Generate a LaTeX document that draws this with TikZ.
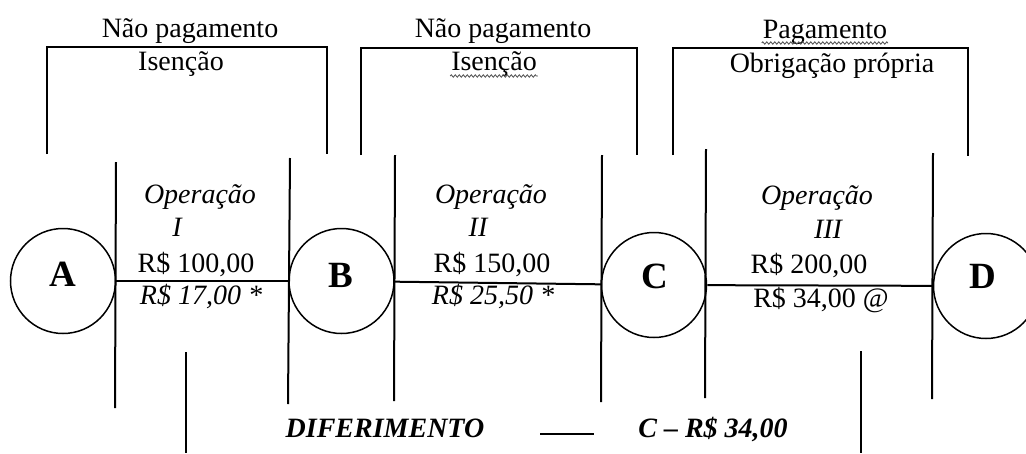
\documentclass[tikz,border=0pt]{standalone}
\usepackage{fontspec}
\setmainfont{Liberation Serif}
\usetikzlibrary{decorations.pathmorphing}

\tikzset{
  party/.style={circle,draw,line width=1.5pt,minimum size=105pt,inner sep=0pt},
  partyname/.style={anchor=base,inner sep=0pt,font=\fontsize{37}{37}\selectfont\bfseries},
  txt/.style={anchor=base,font=\fontsize{28}{30}\selectfont,inner sep=0pt},
  optxt/.style={txt,font=\fontsize{28}{30}\selectfont\itshape},
  deftxt/.style={txt,font=\fontsize{28}{30}\selectfont\bfseries\itshape},
  squiggle/.style={line width=0.8pt,black!70,decorate,decoration={zigzag,amplitude=1.2pt,segment length=4pt}}
}

\begin{document}
\begin{tikzpicture}[x=1pt,y=-1pt,line width=2pt]
  \useasboundingbox (0,0) rectangle (1026,453);

  \node[party] (A) at (63,281) {};
  \node[party] (B) at (341.5,281) {};
  \node[party] (C) at (654,285) {};
  \node[party] (D) at (986,286) {};
  \node[partyname] (nameA) at (63,286) {A};
  \node[partyname] (nameB) at (341,287) {B};
  \node[partyname] (nameC) at (655,288) {C};
  \node[partyname] (nameD) at (983,288) {D};

  % top brackets
  \coordinate (b1a) at (47,154);  \coordinate (b1b) at (47,47);  \coordinate (b1c) at (327,47);  \coordinate (b1d) at (327,154);
  \coordinate (b2a) at (361,155); \coordinate (b2b) at (361,48); \coordinate (b2c) at (637,48);  \coordinate (b2d) at (637,155);
  \coordinate (b3a) at (673,155); \coordinate (b3b) at (673,48); \coordinate (b3c) at (968,48);  \coordinate (b3d) at (968,156);
  \draw (b1a) -- (b1b) -- (b1c) -- (b1d);
  \draw (b2a) -- (b2b) -- (b2c) -- (b2d);
  \draw (b3a) -- (b3b) -- (b3c) -- (b3d);

  % walls of the operations
  \coordinate (w1t) at (116,162); \coordinate (w1b) at (115,408);
  \coordinate (w2t) at (290,158); \coordinate (w2b) at (288,404);
  \coordinate (w3t) at (395,155); \coordinate (w3b) at (394,401);
  \coordinate (w4t) at (602,155); \coordinate (w4b) at (601,402);
  \coordinate (w5t) at (706,149); \coordinate (w5b) at (705,398);
  \coordinate (w6t) at (933,153); \coordinate (w6b) at (932,399);
  \path (w1t) edge (w1b)
        (w2t) edge (w2b)
        (w3t) edge (w3b)
        (w4t) edge (w4b)
        (w5t) edge (w5b)
        (w6t) edge (w6b);

  \path (A) edge (B)
        (B) edge (C)
        (C) edge (D);

  \node[txt] (top1) at (190,37) {Não pagamento};
  \node[txt] (sub1) at (181,70) {Isenção};
  \node[txt] (top2) at (503,37) {Não pagamento};
  \node[txt] (sub2) at (494,70) {Isenção};
  \node[txt] (top3) at (825,38) {Pagamento};
  \node[txt] (sub3) at (832,72) {Obrigação própria};
  \draw[squiggle] ([yshift=-6pt]sub2.base west) -- ([yshift=-6pt]sub2.base east);
  \draw[squiggle] ([yshift=-5pt]top3.base west) -- ([yshift=-5pt]top3.base east);

  \node[optxt] (op1) at (200,203) {Operação};
  \node[optxt] (rom1) at (177,236) {I};
  \node[txt] (val1) at (196,272) {R\$ 100,00};
  \node[optxt] (tax1) at (201,304) {R\$ 17,00 *};

  \node[optxt] (op2) at (491,203) {Operação};
  \node[optxt] (rom2) at (478,236) {II};
  \node[txt] (val2) at (492,272) {R\$ 150,00};
  \node[optxt] (tax2) at (493,304) {R\$ 25,50 *};

  \node[optxt] (op3) at (817,204) {Operação};
  \node[optxt] (rom3) at (828,238) {III};
  \node[txt] (val3) at (809,273) {R\$ 200,00};
  \node[txt] (tax3) at (821,307) {R\$ 34,00 @};

  % deferral line
  \node[deftxt] (dif) at (385,437) {DIFERIMENTO};
  \node[deftxt] (cval) at (713,437) {C -- R\$ 34,00};
  \coordinate (d1) at (186,352); \coordinate (d2) at (186,453);
  \coordinate (d3) at (861,351); \coordinate (d4) at (861,453);
  \coordinate (d5) at (540,434); \coordinate (d6) at (594,434);
  \path (d1) edge (d2)
        (d3) edge (d4)
        (d5) edge (d6);
\end{tikzpicture}
\end{document}
